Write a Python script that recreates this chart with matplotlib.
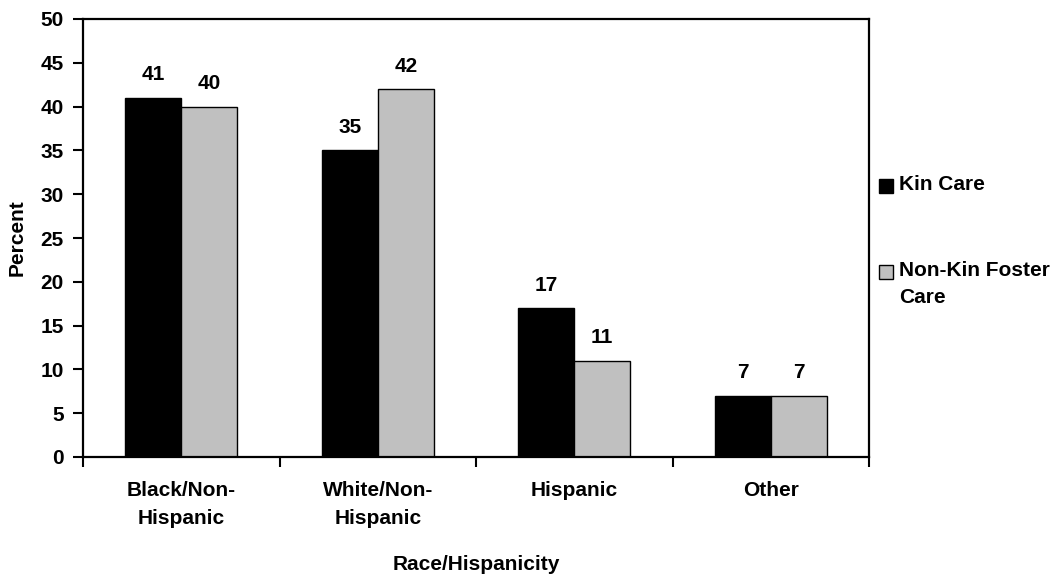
import numpy as np
import matplotlib.pyplot as plt
from matplotlib.patches import Rectangle
from matplotlib.ticker import FixedLocator, NullFormatter

plt.rcParams['font.family'] = ['Liberation Sans', 'DejaVu Sans']
plt.rcParams['font.weight'] = 'bold'

# Race/Hispanicity of children, by placement type
categories = ["Black/Non-\nHispanic", "White/Non-\nHispanic", "Hispanic", "Other"]
kin_care = [41, 35, 17, 7]
non_kin = [40, 42, 11, 7]
series_names = ["Kin Care", "Non-Kin Foster\nCare"]
series_colors = ["black", "#c0c0c0"]

FS = 15
W, H = 1056, 575

fig = plt.figure(figsize=(W / 100, H / 100), dpi=100)
ax = fig.add_axes([83 / W, 118 / H, 786 / W, 438 / H])

x = np.arange(len(categories))
w = 0.285
b1 = ax.bar(x - w / 2, kin_care, w, color=series_colors[0], edgecolor='black', linewidth=1)
b2 = ax.bar(x + w / 2, non_kin, w, color=series_colors[1], edgecolor='black', linewidth=1)

# value labels above bars
for bars, vals in ((b1, kin_care), (b2, non_kin)):
    for rect, v in zip(bars, vals):
        ax.annotate(f"{v}", (rect.get_x() + rect.get_width() / 2, v),
                    xytext=(0, 16.5), textcoords='offset points',
                    ha='center', va='center', fontsize=FS, fontweight='bold')

ax.set_xlim(-0.5, len(categories) - 0.5)
ax.set_ylim(0, 50)
ax.set_yticks(np.arange(0, 51, 5))

ax.set_xticks(x)
ax.set_xticklabels(categories, fontsize=FS, fontweight='bold', linespacing=1.65)
ax.tick_params(axis='x', which='major', length=0, pad=17)
ax.xaxis.set_minor_locator(FixedLocator(np.arange(-0.5, len(categories), 1.0)))
ax.xaxis.set_minor_formatter(NullFormatter())
ax.tick_params(axis='x', which='minor', length=7, width=1.5, direction='out')
ax.tick_params(axis='y', length=7, width=1.5, direction='out', labelsize=FS, pad=7)
for lab in ax.get_yticklabels():
    lab.set_fontweight('bold')

for s in ax.spines.values():
    s.set_linewidth(1.6)

ax.set_ylabel("Percent", fontsize=FS, fontweight='bold', va='center')
ax.yaxis.set_label_coords((17 - 83) / 786, 0.5)
ax.set_xlabel("Race/Hispanicity", fontsize=FS, fontweight='bold', va='center')
ax.xaxis.set_label_coords(0.5, (457 - 564) / 438)

# legend: small squares with labels to the right of the plot
leg_y = [186, 272]
for color, name, yc in zip(series_colors, series_names, leg_y):
    fig.patches.append(Rectangle((879 / W, 1 - (yc + 7) / H), 14 / W, 14 / H,
                                 facecolor=color, edgecolor='black', linewidth=1,
                                 transform=fig.transFigure, figure=fig))
    fig.text(899 / W, 1 - (yc - 11) / H, name, fontsize=FS, fontweight='bold',
             ha='left', va='top', linespacing=1.55)

fig.savefig("out.png", dpi=100)
